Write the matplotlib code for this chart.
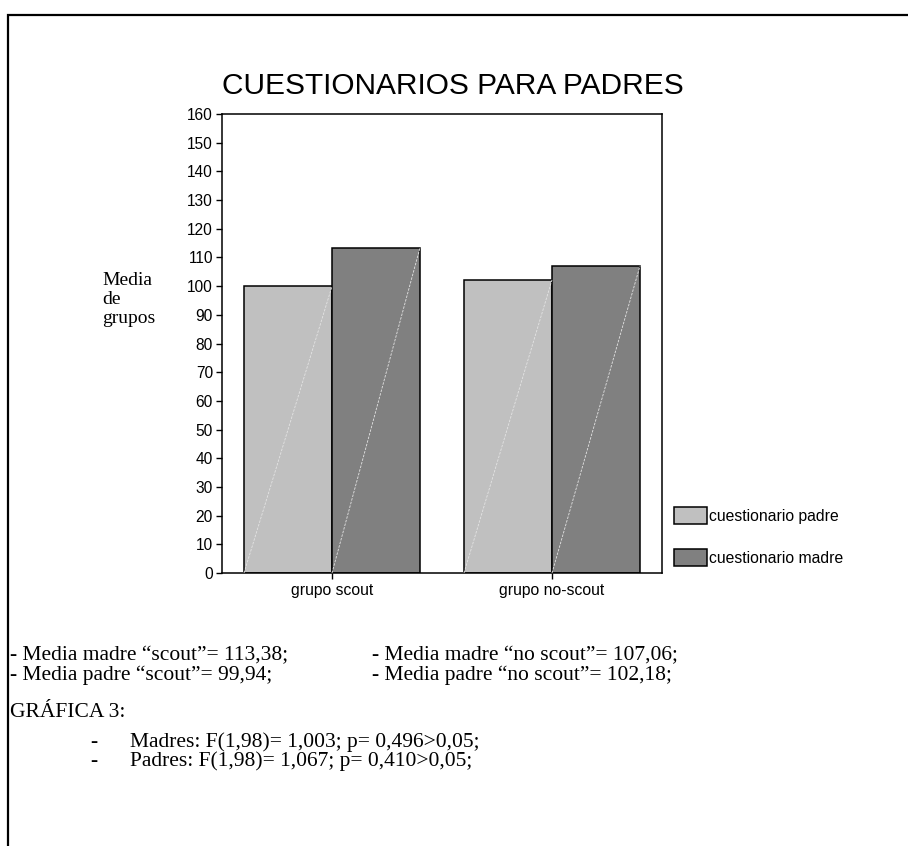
import matplotlib.pyplot as plt
from matplotlib.lines import Line2D
import numpy as np

W, H = 908, 846

groups = ["grupo scout", "grupo no-scout"]
series = ["cuestionario padre", "cuestionario madre"]
padre = [99.94, 102.18]
madre = [113.38, 107.06]
colors = ["#c0c0c0", "#808080"]
yticks = list(range(0, 161, 10))

means_left = ['- Media madre \u201cscout\u201d= 113,38;',
              '- Media padre \u201cscout\u201d= 99,94;']
means_right = ['- Media madre \u201cno scout\u201d= 107,06;',
               '- Media padre \u201cno scout\u201d= 102,18;']
stats_title = "GRÁFICA 3:"
stats = ["Madres: F(1,98)= 1,003; p= 0,496>0,05;",
         "Padres: F(1,98)= 1,067; p= 0,410>0,05;"]

SANS = "Liberation Sans"
SERIF = "Liberation Serif"


def fx(x):
    return x / W


def fy(y):
    return 1 - y / H


fig = plt.figure(figsize=(W / 100, H / 100), dpi=100)
ax = fig.add_axes([fx(222), fy(573), (662 - 222) / W, (573 - 114) / H])

x = np.arange(len(groups))
w = 0.4
for vals, off, c, name in [(padre, -w / 2, colors[0], series[0]),
                           (madre, w / 2, colors[1], series[1])]:
    ax.bar(x + off, vals, width=w, color=c, edgecolor="black",
           linewidth=1.1, label=name, zorder=2)
    # thin light diagonal across each bar
    for xi, v in zip(x + off, vals):
        ax.plot([xi - w / 2, xi + w / 2], [0, v], color="#e4e4e4",
                lw=0.6, ls=(0, (3, 1.5)), zorder=3)

ax.set_xlim(-0.5, 1.5)
ax.set_ylim(0, 160)
ax.set_yticks(yticks)
ax.set_yticklabels([str(t) for t in yticks], fontfamily=SANS, fontsize=11.2)
ax.set_xticks(x)
ax.set_xticklabels(groups, fontfamily=SANS, fontsize=11.3)
ax.tick_params(direction="out", length=4.5, width=1.0, color="black")
ax.tick_params(axis="y", pad=2)
ax.tick_params(axis="x", pad=3)
for s in ax.spines.values():
    s.set_linewidth(1.1)

leg = fig.legend(loc="upper left", bbox_to_anchor=(fx(674), fy(507)),
                 frameon=False, prop={"family": SANS, "size": 11.3},
                 handlelength=2.1, handleheight=1.27, handletextpad=0.12,
                 labelspacing=1.6, borderpad=0, borderaxespad=0)

fig.text(fx(453), fy(86), "CUESTIONARIOS PARA PADRES", ha="center",
         va="center", fontfamily=SANS, fontsize=21.5)

fig.text(fx(102), fy(272), "Media\nde\ngrupos", ha="left", va="top",
         fontfamily=SERIF, fontsize=14, linespacing=1.15)

FS = 15.5
for i, (a, b) in enumerate(zip(means_left, means_right)):
    yy = 656 + 19 * i
    fig.text(fx(10), fy(yy), a, va="center", fontfamily=SERIF, fontsize=FS)
    fig.text(fx(372), fy(yy), b, va="center", fontfamily=SERIF, fontsize=FS)

fig.text(fx(10), fy(712), stats_title, va="center", fontfamily=SERIF,
         fontsize=FS)
for i, s in enumerate(stats):
    yy = 742 + 19 * i
    fig.text(fx(90), fy(yy), "-", va="center", fontfamily=SERIF, fontsize=FS)
    fig.text(fx(130), fy(yy), s, va="center", fontfamily=SERIF, fontsize=FS)

# page frame: top and left edges
fig.add_artist(Line2D([fx(8), fx(8), fx(W)], [0, fy(15), fy(15)],
                      color="black", lw=1.6, solid_joinstyle="miter"))

fig.savefig("out.png", dpi=100)
